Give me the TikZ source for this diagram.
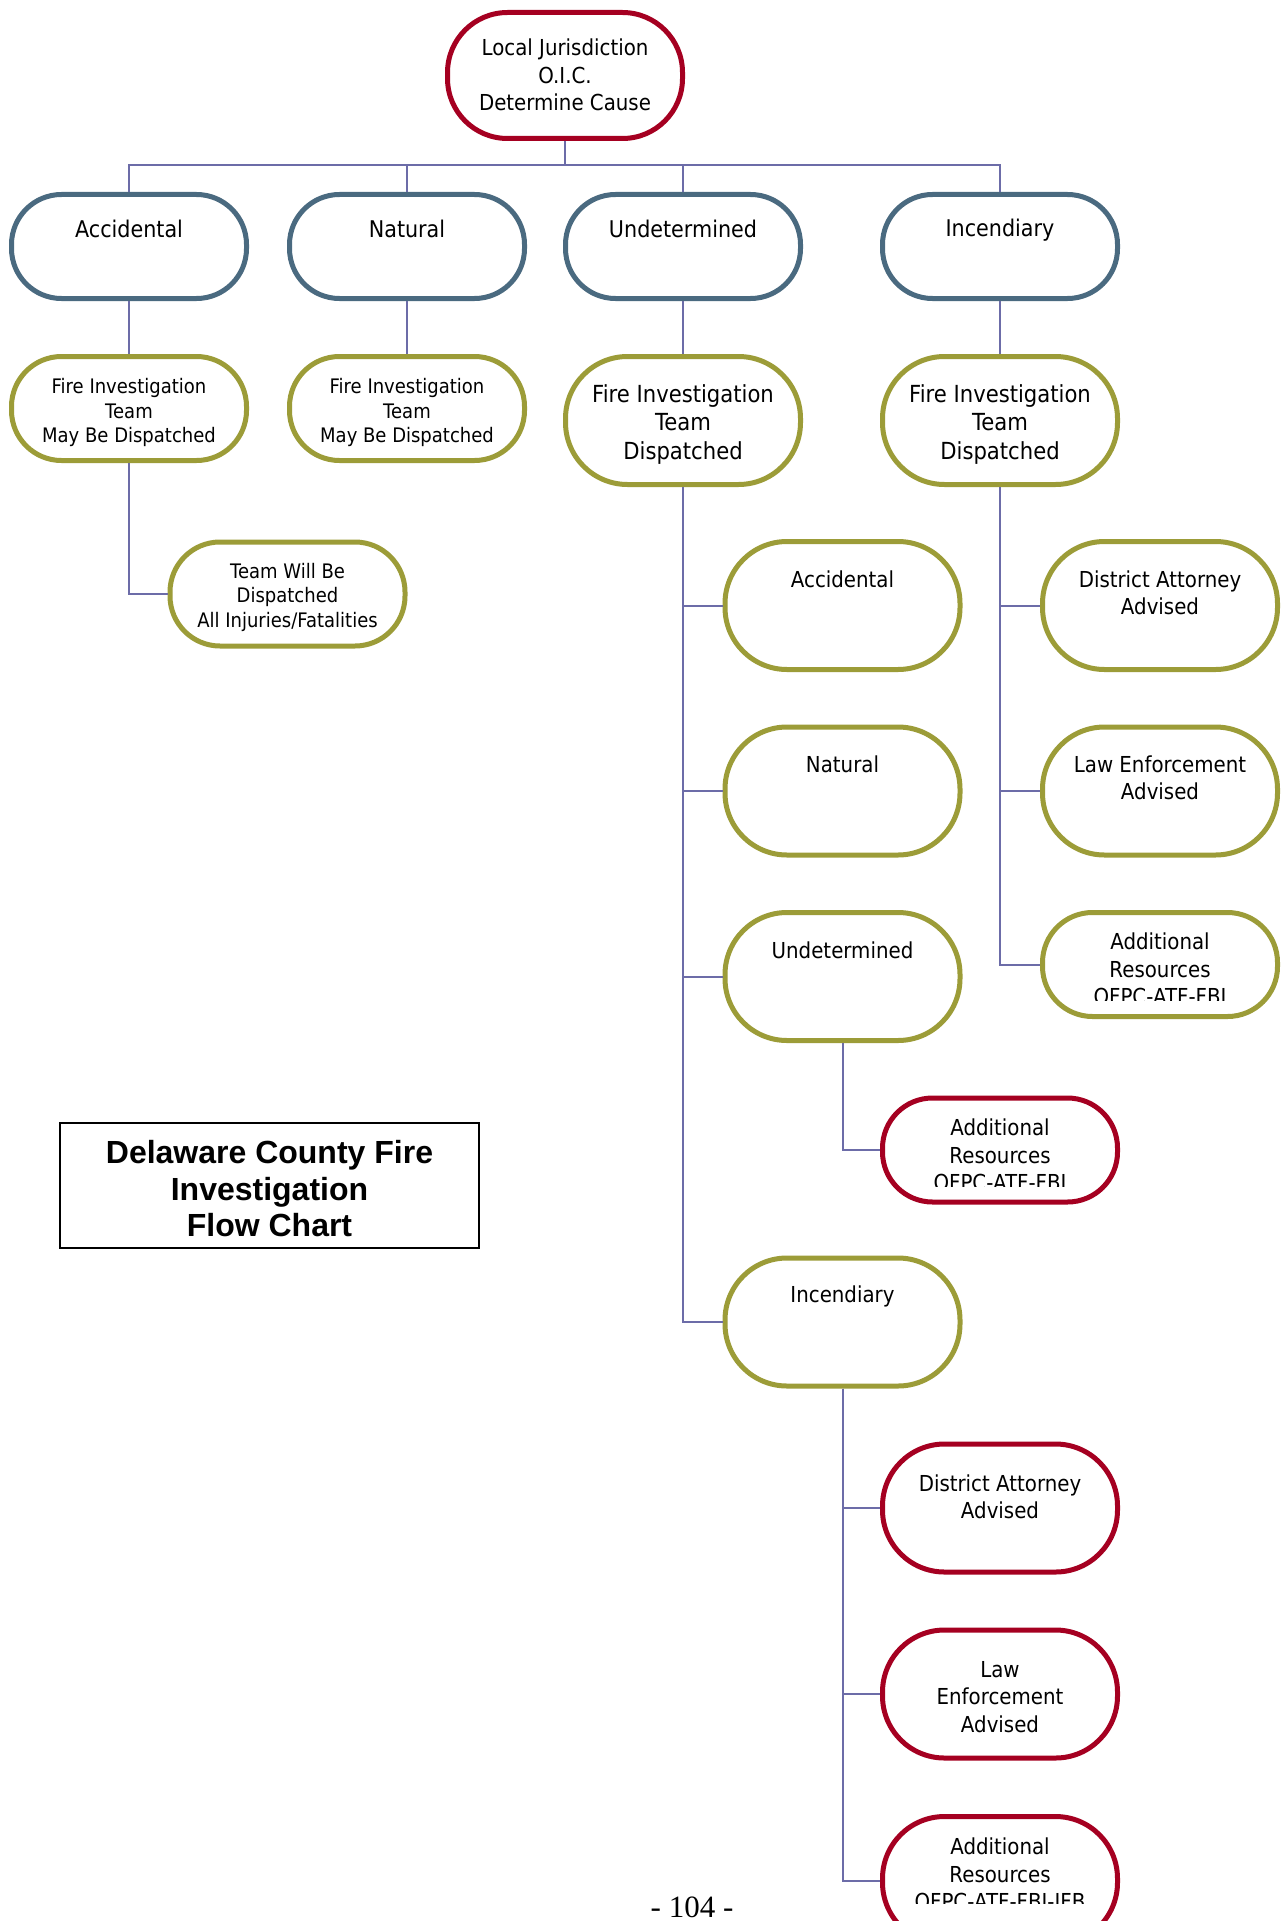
\documentclass[tikz,border=0pt]{standalone}
\usepackage{fontspec}
\setmainfont{DejaVu Sans}[FakeStretch=0.9]
\newfontfamily\titlefont{Liberation Sans}
\newfontfamily\pagefont{Liberation Serif}
\definecolor{cred}{RGB}{165,0,33}
\definecolor{cblue}{RGB}{74,106,128}
\definecolor{colive}{RGB}{156,156,56}
\definecolor{cline}{RGB}{108,108,168}
\begin{document}
\begin{tikzpicture}[x=1pt,y=-1pt,
  pillbase/.style={draw, line width=5pt, fill=white, minimum width=235pt, inner sep=0pt, align=center},
  pillS/.style={pillbase, minimum height=104pt, rounded corners=50pt},
  pillL/.style={pillbase, minimum height=128pt, rounded corners=62pt},
  pillT/.style={pillbase, minimum height=126pt, rounded corners=60pt},
  redb/.style={draw=cred},
  blueb/.style={draw=cblue},
  oliveb/.style={draw=colive},
  ft/.style={font=\fontsize{22}{27.5}\selectfont},
  fa/.style={font=\fontsize{23}{28}\selectfont},
  fs/.style={font=\fontsize{20}{24.5}\selectfont},
  fl/.style={font=\fontsize{23.5}{28.8}\selectfont},
  txt/.style={align=center, inner sep=0pt},
  conn/.style={draw=cline, line width=2pt}]
\clip (0,0) rectangle (1287,1921);
\fill[white] (0,0) rectangle (1287,1921);

% top
\node[pillT, redb] (top) at (565,75.5) {};
\node[txt, ft] (topt) at (565,75) {Local Jurisdiction\\O.I.C.\\Determine Cause};
\coordinate (bar) at (565,165);

% row 1
\node[pillS, blueb] (acc1) at (129,246.5) {};
\node[txt, fa] (acc1t) at (129,229) {Accidental};
\node[pillS, blueb] (nat1) at (407,246.5) {};
\node[txt, fa] (nat1t) at (407,229) {Natural};
\node[pillS, blueb] (und1) at (683,246.5) {};
\node[txt, fa] (und1t) at (683,229) {Undetermined};
\node[pillS, blueb] (inc1) at (1000,246.5) {};
\node[txt, fa] (inc1t) at (1000,230) {Incendiary};

% row 2
\node[pillS, oliveb] (acc2) at (129,408.5) {};
\node[txt, fs] (acc2t) at (129,412.5) {Fire Investigation\\Team\\May Be Dispatched};
\node[pillS, oliveb] (nat2) at (407,408.5) {};
\node[txt, fs] (nat2t) at (407,412.5) {Fire Investigation\\Team\\May Be Dispatched};
\node[pillL, oliveb] (und2) at (683,420.5) {};
\node[txt, fl] (und2t) at (683,424.5) {Fire Investigation\\Team\\Dispatched};
\node[pillL, oliveb] (inc2) at (1000,420.5) {};
\node[txt, fl] (inc2t) at (1000,424.5) {Fire Investigation\\Team\\Dispatched};

\node[pillS, oliveb] (team) at (287.5,594) {};
\node[txt, fs] (teamt) at (287.5,597) {Team Will Be\\Dispatched\\All Injuries/Fatalities};

% middle column
\node[pillL, oliveb] (macc) at (842.5,605.5) {};
\node[txt, ft] (macct) at (842.5,579) {Accidental};
\node[pillL, oliveb] (mnat) at (842.5,791) {};
\node[txt, ft] (mnatt) at (842.5,764) {Natural};
\node[pillL, oliveb] (mund) at (842.5,976.5) {};
\node[txt, ft] (mundt) at (842.5,950) {Undetermined};
\node[pillL, oliveb] (minc) at (842.5,1322) {};
\node[txt, ft] (minct) at (842.5,1296) {Incendiary};

\node[pillS, redb] (rres1) at (1000,1150) {};
\begin{scope}
\clip (850,1100) rectangle (1150,1186);
\node[txt, ft] (rres1t) at (1000,1155) {Additional\\Resources\\OFPC-ATF-FBI};
\end{scope}

% right column
\node[pillL, oliveb] (oda) at (1160,605.5) {};
\node[txt, ft] (odat) at (1160,593) {District Attorney\\Advised};
\node[pillL, oliveb] (ole) at (1160,791) {};
\node[txt, ft] (olet) at (1160,778) {Law Enforcement\\Advised};
\node[pillS, oliveb] (ores) at (1160,964.5) {};
\begin{scope}
\clip (1010,915) rectangle (1287,1000);
\node[txt, ft] (orest) at (1160,969) {Additional\\Resources\\OFPC-ATF-FBI};
\end{scope}

% incendiary children
\node[pillL, redb] (rda) at (1000,1508) {};
\node[txt, ft] (rdat) at (1000,1497) {District Attorney\\Advised};
\node[pillL, redb] (rle) at (1000,1694) {};
\node[txt, ft] (rlet) at (1000,1697) {Law\\Enforcement\\Advised};
\node[pillL, redb] (rres2) at (1000,1880.5) {};
\begin{scope}
\clip (850,1820) rectangle (1150,1903);
\node[txt, ft] (rres2t) at (1000,1874) {Additional\\Resources\\OFPC-ATF-FBI-IFB};
\end{scope}

% title
\node[draw=black, line width=1.8pt, minimum width=419pt, minimum height=125pt, inner sep=0pt] (titlebox) at (269.5,1185.5) {};
\node[txt, font=\titlefont\bfseries\fontsize{32}{36.5}\selectfont] (title) at (269.5,1189) {Delaware County Fire\\Investigation\\Flow Chart};

% page number
\node[txt, font=\pagefont\fontsize{31}{36}\selectfont] (page) at (692,1907) {- 104 -};

% connectors
\draw[conn] (top.south) -- (bar);
\draw[conn] (acc1.north) |- (bar) -| (inc1.north);
\draw[conn] (nat1.north) -- (nat1.north |- bar);
\draw[conn] (und1.north) -- (und1.north |- bar);
\draw[conn] (acc1.south) -- (acc2.north);
\draw[conn] (nat1.south) -- (nat2.north);
\draw[conn] (und1.south) -- (und2.north);
\draw[conn] (inc1.south) -- (inc2.north);
\draw[conn] (acc2.south) |- (team.west);
\draw[conn] (und2.south) |- (macc.west);
\draw[conn] (und2.south) |- (mnat.west);
\draw[conn] (und2.south) |- (mund.west);
\draw[conn] (und2.south) |- (minc.west);
\draw[conn] (mund.south) |- (rres1.west);
\draw[conn] (minc.south) |- (rda.west);
\draw[conn] (minc.south) |- (rle.west);
\draw[conn] (minc.south) |- (rres2.west);
\draw[conn] (inc2.south) |- (oda.west);
\draw[conn] (inc2.south) |- (ole.west);
\draw[conn] (inc2.south) |- (ores.west);
\end{tikzpicture}
\end{document}
